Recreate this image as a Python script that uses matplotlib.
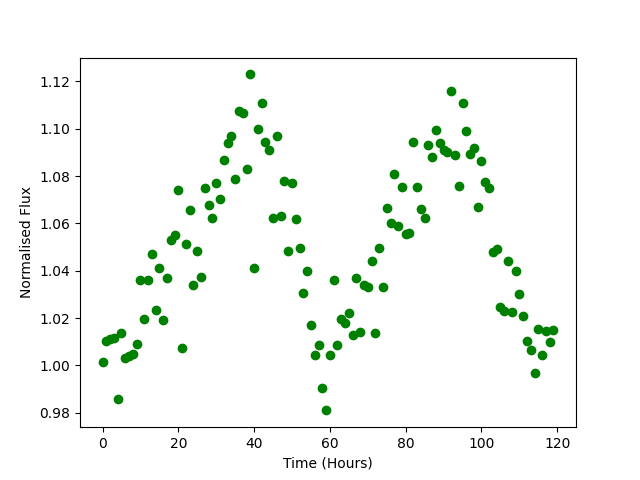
import matplotlib
matplotlib.use("Agg")
import matplotlib.pyplot as plt

# hourly samples, hours 0..119
hours = list(range(120))
flux = [
    1.0015, 1.0105, 1.011, 1.0115, 0.986, 1.0135, 1.003, 1.004, 1.005, 1.009,
    1.036, 1.0195, 1.036, 1.047, 1.0235, 1.041, 1.019, 1.037, 1.053, 1.055,
    1.074, 1.0075, 1.0515, 1.0655, 1.034, 1.0485, 1.0375, 1.075, 1.068, 1.0625,
    1.077, 1.0705, 1.087, 1.094, 1.097, 1.079, 1.1075, 1.1065, 1.083, 1.123,
    1.041, 1.100, 1.111, 1.0945, 1.091, 1.0625, 1.097, 1.063, 1.078, 1.0485,
    1.077, 1.062, 1.0495, 1.0305, 1.040, 1.017, 1.0045, 1.0085, 0.9905, 0.981,
    1.0045, 1.036, 1.0085, 1.0195, 1.018, 1.022, 1.013, 1.037, 1.014, 1.034,
    1.033, 1.044, 1.0135, 1.0495, 1.033, 1.0665, 1.060, 1.081, 1.059, 1.0755,
    1.0555, 1.056, 1.0945, 1.0755, 1.066, 1.0625, 1.093, 1.088, 1.0995, 1.094,
    1.091, 1.090, 1.116, 1.089, 1.076, 1.111, 1.099, 1.0895, 1.092, 1.067,
    1.0865, 1.0775, 1.075, 1.048, 1.049, 1.0245, 1.023, 1.044, 1.0225, 1.040,
    1.030, 1.021, 1.0105, 1.0065, 0.997, 1.0155, 1.0045, 1.0145, 1.010, 1.015,
]

fig, ax = plt.subplots(figsize=(6.4, 4.8), dpi=100)
ax.plot(hours, flux, "go")
ax.set_xlabel("Time (Hours)")
ax.set_ylabel("Normalised Flux")

fig.savefig("out.png", dpi=100)
